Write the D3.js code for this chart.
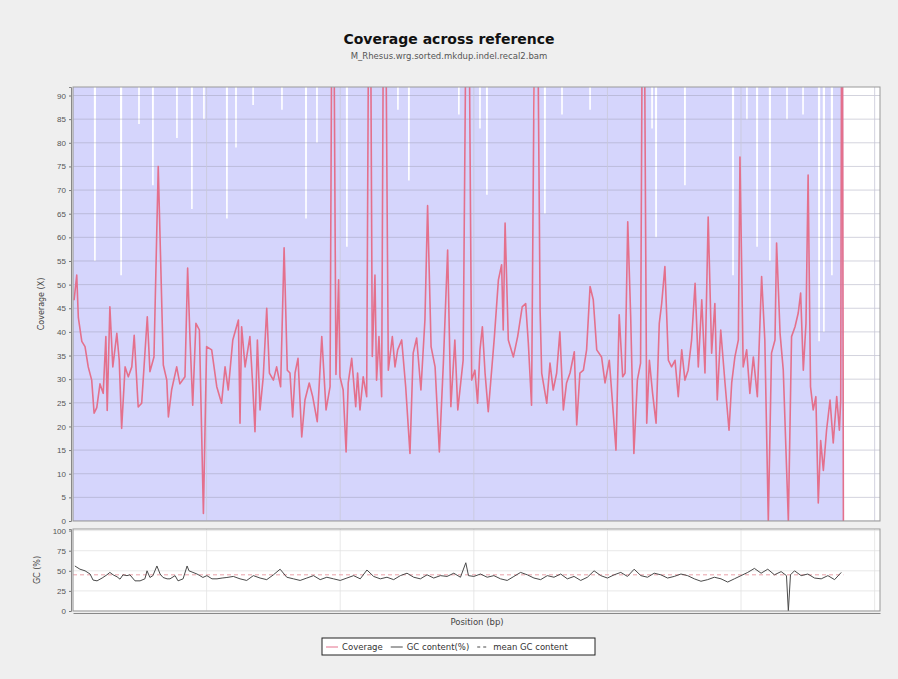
<!DOCTYPE html>
<html>
<head>
<meta charset="utf-8">
<script src="https://cdn.jsdelivr.net/npm/d3@7"></script>
<style>
  body { margin: 0; background: #efefef; }
  svg { display: block; font-family: "DejaVu Sans", sans-serif; }
  .tick text { fill: #555; font-size: 8px; }
  .tick line { stroke: #777; }
  .domain { stroke: #888; }
</style>
</head>
<body>
<div id="chart"></div>
<script>
'use strict';

// coverage windows: position (Mb) and mean coverage (X)
var covPos = [4, 14, 20, 33, 45, 57, 70, 79, 89, 101, 113, 123, 128, 138, 149, 164, 173, 182, 195, 207,
  220, 229, 244, 257, 278, 288, 303, 319, 338, 351, 357, 369, 388, 400, 419, 429, 438, 448, 460, 473,
  488, 500, 519, 538, 556, 569, 581, 598, 619, 625, 631, 644, 662, 672, 681, 690, 700, 712, 725, 735,
  750, 762, 777, 790, 802, 812, 822, 831, 842, 856, 868, 884, 897, 914, 931, 947, 962, 972, 984, 994,
  999, 1011, 1022, 1030, 1043, 1058, 1065, 1074, 1086, 1099, 1110, 1120, 1130, 1136, 1145, 1155, 1165, 1180, 1195, 1205,
  1215, 1230, 1245, 1261, 1273, 1286, 1302, 1317, 1327, 1340, 1355, 1371, 1386, 1402, 1414, 1429, 1440, 1460, 1477, 1492,
  1504, 1514, 1523, 1532, 1542, 1554, 1577, 1592, 1604, 1610, 1617, 1629, 1648, 1664, 1681, 1694, 1704, 1716, 1733, 1748,
  1754, 1773, 1785, 1797, 1810, 1822, 1835, 1847, 1860, 1876, 1885, 1897, 1910, 1922, 1935, 1947, 1960, 1978, 1991, 2007,
  2020, 2032, 2044, 2057, 2066, 2076, 2087, 2099, 2112, 2124, 2134, 2147, 2157, 2169, 2182, 2194, 2203, 2215, 2228, 2240,
  2253, 2265, 2278, 2290, 2302, 2315, 2328, 2340, 2353, 2365, 2377, 2390, 2402, 2411, 2424, 2440, 2455, 2465, 2477, 2490,
  2496, 2508, 2521, 2533, 2546, 2561, 2577, 2589, 2602, 2614, 2627, 2633, 2646, 2658, 2677, 2689, 2702, 2714, 2723, 2733,
  2743, 2751, 2760, 2770, 2780, 2789, 2798, 2808, 2820, 2833, 2845, 2858, 2868, 2873, 2878, 2883];
var covVal = [46.7, 52, 43, 38, 36.9, 32.6, 29.8, 22.8, 24, 29, 27, 39, 23.4, 45.3, 32.6, 39.7, 34, 19.6, 32.6, 30.5,
  32.6, 39.3, 24.1, 24.9, 43.2, 31.6, 34.7, 75, 33, 29.8, 22, 27.7, 32.6, 29, 30.5, 53.5, 38.3, 24.5, 41.8, 40.4,
  1.6, 36.9, 36.2, 28.4, 24.9, 32.6, 27.7, 38.3, 42.5, 20.7, 41.1, 32.6, 39, 29.2, 18.9, 38.3, 23.5, 30.5, 45, 31.3,
  29.8, 32.6, 28.4, 57.8, 31.9, 31.3, 22, 31.3, 34.4, 17.8, 25.6, 29.2, 26.3, 21, 39, 23.5, 28.4, 150, 31, 51,
  30.5, 27.7, 14.6, 29.2, 34.4, 24.2, 31.3, 23.5, 30.5, 26.3, 150, 34.8, 52, 29.8, 39, 26.3, 150, 31.9, 39, 32.6,
  36.2, 38.3, 28.4, 14.3, 35.5, 38.7, 27.7, 42.5, 66.7, 36.9, 32.6, 14.6, 33.4, 57.3, 24.2, 38.3, 23.5, 34, 150, 29.8,
  31.9, 24.9, 36.2, 41.1, 31.3, 23.1, 39, 51, 54.2, 40.4, 63, 38.3, 34.7, 39, 45.3, 46, 37.6, 24.5, 150, 44.6,
  31.3, 24.9, 33.4, 27.7, 31.3, 40, 23.5, 29.2, 31.3, 35.8, 20.3, 31.3, 31.9, 36.2, 49.6, 46.8, 36.2, 34.7, 29.2, 34,
  24.2, 15, 43.6, 30.5, 31.3, 63.3, 43.2, 14.3, 29.8, 33.4, 150, 20.7, 34, 27, 20.7, 41.8, 46, 53.8, 34, 32.6,
  34, 26.3, 36.2, 29.8, 31.9, 38.3, 50.3, 32.6, 46.8, 31.3, 64.3, 35.5, 46, 25.6, 40.4, 29.2, 19.2, 29.2, 34.7, 38.3,
  77, 32.6, 36.2, 27, 34.7, 26.3, 51.7, 38.3, 0, 35.5, 38.3, 58.8, 39.7, 31.9, 0, 39, 41.1, 44, 48.2, 31.9,
  41.8, 73.2, 28.4, 23.5, 26.3, 3.8, 17, 10.7, 19.2, 25.6, 16.5, 26.3, 19.2, 25.6, 150, 0];

// coverage + std band: places where the band top drops below the plot top
var gapPos = [82, 180, 247, 299, 389, 445, 490, 576, 610, 674, 782, 872, 913, 1025, 1216, 1257, 1444, 1523,
  1549, 1725, 1766, 1830, 1935, 2167, 2182, 2290, 2470, 2522, 2560, 2608, 2672, 2732, 2792, 2810, 2840];
var gapTop = [55, 52, 84, 71, 81, 66, 85, 64, 79, 88, 87, 64, 80, 58, 87, 72, 86, 83,
  69, 85, 65, 86, 87, 83, 60, 71, 52, 85, 58, 55, 85, 86, 38, 40, 52];
var bandEnd = 2883;

// GC content (%) per window
var gcPos = [7, 26, 45, 64, 75, 90, 109, 127, 138, 150, 165, 176, 187, 202, 213, 232, 251, 269, 277, 288,
  299, 314, 326, 337, 352, 363, 382, 393, 412, 427, 434, 449, 464, 475, 486, 501, 520, 539, 558, 576,
  600, 625, 650, 675, 700, 725, 750, 775, 800, 825, 850, 875, 900, 925, 950, 975, 1000, 1025, 1050, 1075,
  1100, 1125, 1150, 1175, 1200, 1225, 1250, 1275, 1300, 1325, 1350, 1375, 1400, 1425, 1450, 1470, 1480, 1500, 1525, 1550,
  1575, 1600, 1625, 1650, 1675, 1700, 1725, 1750, 1775, 1800, 1825, 1850, 1875, 1900, 1925, 1950, 1975, 2000, 2025, 2050,
  2075, 2100, 2125, 2150, 2175, 2200, 2225, 2250, 2275, 2300, 2325, 2350, 2375, 2400, 2425, 2450, 2475, 2500, 2525, 2550,
  2575, 2600, 2625, 2650, 2670, 2677, 2685, 2700, 2725, 2750, 2775, 2800, 2825, 2850, 2875];
var gcVal = [56, 52, 50, 46, 38.5, 37.5, 41, 45, 48, 45, 42.5, 39.6, 45, 44, 45, 37.5, 37.5, 40, 50, 41.7,
  44, 56, 46, 41.7, 40, 40, 44, 37.5, 40, 56, 50, 48, 46, 44, 41.7, 44, 40, 40, 41, 41.7,
  43, 40, 38, 44, 41, 39, 45, 52, 42, 40, 38, 41, 44, 39, 42, 40, 38, 41, 44, 40,
  51, 43, 40, 42, 39, 44, 47, 42, 40, 45, 41, 44, 43, 47, 42, 60, 44, 43, 46, 42,
  44, 40, 38, 43, 48, 45, 41, 39, 44, 42, 46, 40, 43, 38, 42, 50, 44, 41, 45, 48,
  43, 52, 44, 42, 47, 45, 41, 43, 46, 44, 40, 37, 39, 42, 40, 36, 40, 44, 48, 53,
  47, 52, 45, 49, 44, 0, 45, 50, 44, 46, 41, 40, 44, 39, 48];
var meanGC = 45;

var covTicks = d3.range(0, 91, 5);
var gcTicks = [0, 25, 50, 75, 100];
var posTicks = [0, 500, 1000, 1500, 2000, 2500, 3000];

var W = 898, H = 679;
var plotL = 73, plotR = 880;
var top1 = 87, bot1 = 521, top2 = 529, bot2 = 611;

var svg = d3.select('#chart').append('svg').attr('width', W).attr('height', H);
svg.append('rect').attr('width', W).attr('height', H).attr('fill', '#efefef');

var x = d3.scaleLinear().domain([0, 3020]).range([plotL, plotR]);
var y1 = d3.scaleLinear().domain([0, 91.8]).range([bot1, top1]);
var y2 = d3.scaleLinear().domain([0, 102]).range([bot2, top2]);

// titles
svg.append('text').attr('x', 449).attr('y', 44).attr('text-anchor', 'middle')
  .style('font-size', '14px').style('font-weight', 'bold').attr('fill', '#111')
  .text('Coverage across reference');
svg.append('text').attr('x', 449).attr('y', 59).attr('text-anchor', 'middle')
  .style('font-size', '8.5px').attr('fill', '#555')
  .text('M_Rhesus.wrg.sorted.mkdup.indel.recal2.bam');

var defs = svg.append('defs');
defs.append('clipPath').attr('id', 'clip1').append('rect')
  .attr('x', plotL).attr('y', top1).attr('width', plotR - plotL).attr('height', bot1 - top1);
defs.append('clipPath').attr('id', 'clip2').append('rect')
  .attr('x', plotL).attr('y', top2).attr('width', plotR - plotL).attr('height', bot2 - top2);

// ---- upper panel ----
svg.append('rect').attr('x', plotL).attr('y', top1).attr('width', plotR - plotL).attr('height', bot1 - top1)
  .attr('fill', '#fff');

var band = [[0, 200]];
gapPos.forEach(function(p, i) {
  band.push([p - 7, 200], [p - 3, gapTop[i]], [p + 3, gapTop[i]], [p + 7, 200]);
});
band.push([bandEnd, 200]);

var g1 = svg.append('g').attr('clip-path', 'url(#clip1)');
g1.append('path').datum(band)
  .attr('fill', '#d5d5fc')
  .attr('d', d3.area().x(function(d) { return x(d[0]); }).y0(y1(0)).y1(function(d) { return y1(d[1]); }));

// grid
g1.selectAll('.hg').data(covTicks).enter().append('line')
  .attr('x1', plotL).attr('x2', plotR)
  .attr('y1', function(d) { return y1(d); }).attr('y2', function(d) { return y1(d); })
  .attr('stroke', '#9a9ab0').attr('stroke-opacity', 0.55).attr('stroke-width', 0.8);
g1.selectAll('.vg').data(posTicks).enter().append('line')
  .attr('y1', top1).attr('y2', bot1)
  .attr('x1', function(d) { return x(d); }).attr('x2', function(d) { return x(d); })
  .attr('stroke', '#c8c8d8').attr('stroke-width', 0.8);

var cov = covPos.map(function(p, i) { return [p, covVal[i]]; });
g1.append('path').datum(cov)
  .attr('fill', 'none').attr('stroke', '#e4708c').attr('stroke-width', 1.6)
  .attr('stroke-linejoin', 'round')
  .attr('d', d3.line().x(function(d) { return x(d[0]); }).y(function(d) { return y1(d[1]); }));

svg.append('rect').attr('x', plotL).attr('y', top1).attr('width', plotR - plotL).attr('height', bot1 - top1)
  .attr('fill', 'none').attr('stroke', '#999');

var yAxis1 = svg.append('g').attr('transform', 'translate(' + (plotL - 2) + ',0)')
  .call(d3.axisLeft(y1).tickValues(covTicks).tickSize(2).tickPadding(3));
yAxis1.select('.domain').attr('stroke', '#888');

svg.append('text').attr('transform', 'translate(44,' + ((top1 + bot1) / 2) + ') rotate(-90)')
  .attr('text-anchor', 'middle').style('font-size', '8px').attr('fill', '#444')
  .text('Coverage (X)');

// ---- lower panel ----
svg.append('rect').attr('x', plotL).attr('y', top2).attr('width', plotR - plotL).attr('height', bot2 - top2)
  .attr('fill', '#fff');
var g2 = svg.append('g').attr('clip-path', 'url(#clip2)');
g2.selectAll('.hg').data(gcTicks).enter().append('line')
  .attr('x1', plotL).attr('x2', plotR)
  .attr('y1', function(d) { return y2(d); }).attr('y2', function(d) { return y2(d); })
  .attr('stroke', '#e2e2e2').attr('stroke-width', 0.8);
g2.selectAll('.vg').data(posTicks).enter().append('line')
  .attr('y1', top2).attr('y2', bot2)
  .attr('x1', function(d) { return x(d); }).attr('x2', function(d) { return x(d); })
  .attr('stroke', '#e2e2e2').attr('stroke-width', 0.8);

g2.append('line').attr('x1', x(0)).attr('x2', x(bandEnd))
  .attr('y1', y2(meanGC)).attr('y2', y2(meanGC))
  .attr('stroke', '#e9a0a8').attr('stroke-width', 1).attr('stroke-dasharray', '4,3');

var gc = gcPos.map(function(p, i) { return [p, gcVal[i]]; });
g2.append('path').datum(gc)
  .attr('fill', 'none').attr('stroke', '#4a4a4a').attr('stroke-width', 1)
  .attr('d', d3.line().x(function(d) { return x(d[0]); }).y(function(d) { return y2(d[1]); }));

svg.append('rect').attr('x', plotL).attr('y', top2).attr('width', plotR - plotL).attr('height', bot2 - top2)
  .attr('fill', 'none').attr('stroke', '#999');

var yAxis2 = svg.append('g').attr('transform', 'translate(' + (plotL - 2) + ',0)')
  .call(d3.axisLeft(y2).tickValues(gcTicks).tickSize(2).tickPadding(3));
yAxis2.select('.domain').attr('stroke', '#888');

var xAxis = svg.append('g').attr('transform', 'translate(0,' + (bot2 + 2) + ')')
  .call(d3.axisBottom(x).tickValues(posTicks).tickSize(0).tickFormat(''));
xAxis.select('.domain').attr('stroke', '#888');

svg.append('text').attr('transform', 'translate(40,' + ((top2 + bot2) / 2) + ') rotate(-90)')
  .attr('text-anchor', 'middle').style('font-size', '8px').attr('fill', '#444')
  .text('GC (%)');

svg.append('text').attr('x', 477).attr('y', 625).attr('text-anchor', 'middle')
  .style('font-size', '8.5px').attr('fill', '#444').text('Position (bp)');

// ---- legend ----
var legend = [
  {label: 'Coverage', color: '#e4708c', dash: null},
  {label: 'GC content(%)', color: '#4a4a4a', dash: null},
  {label: 'mean GC content', color: '#4a4a4a', dash: '3,3'}
];
var lg = svg.append('g');
lg.append('rect').attr('x', 322).attr('y', 638).attr('width', 273).attr('height', 17)
  .attr('fill', '#fff').attr('stroke', '#222');
var lx = 326;
legend.forEach(function(d) {
  lg.append('line').attr('x1', lx).attr('x2', lx + 12).attr('y1', 647).attr('y2', 647)
    .attr('stroke', d.color).attr('stroke-dasharray', d.dash);
  var t = lg.append('text').attr('x', lx + 16).attr('y', 650)
    .style('font-size', '8.5px').attr('fill', '#333').text(d.label);
  lx += 16 + t.node().getComputedTextLength() + 8;
});
</script>
</body>
</html>
